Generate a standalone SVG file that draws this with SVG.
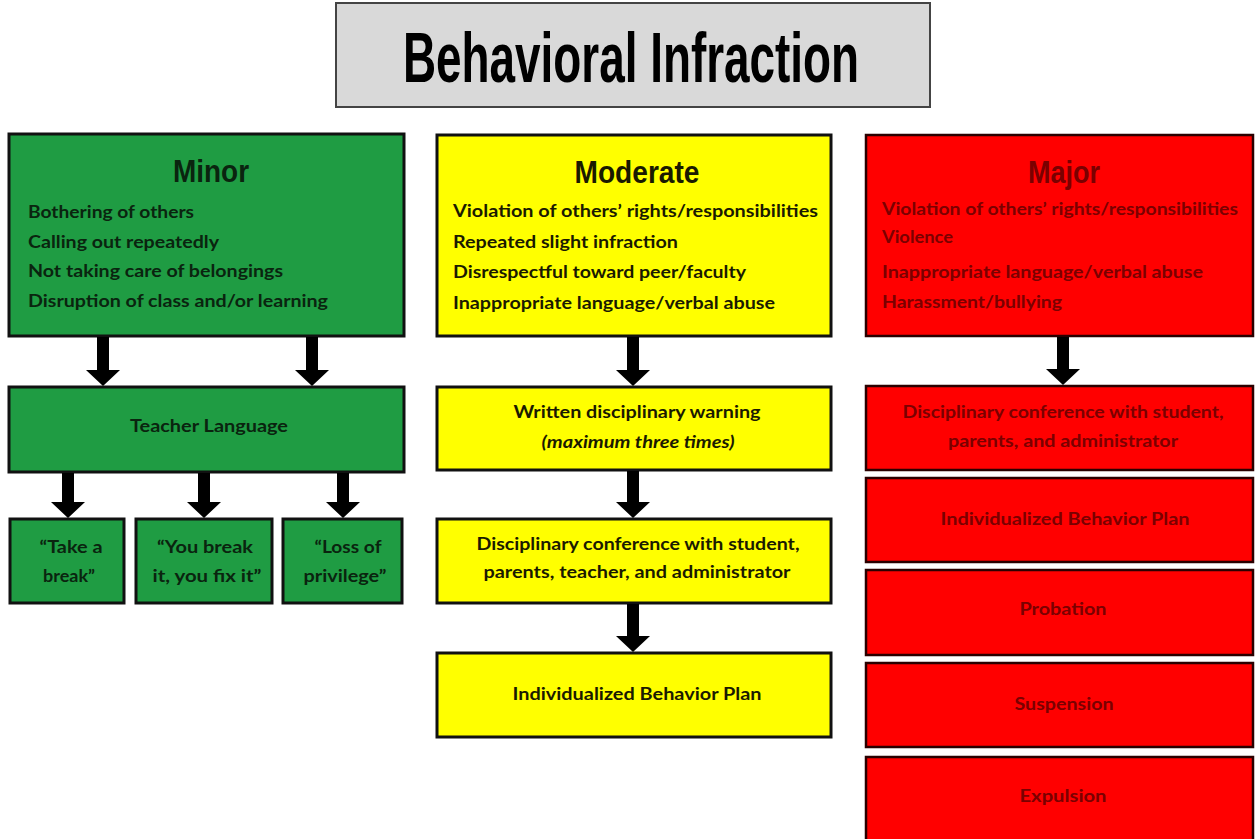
<svg xmlns="http://www.w3.org/2000/svg" width="1255" height="839" viewBox="0 0 1255 839">
<style>
.box{stroke:#111;stroke-width:3}
.g{fill:#1f9c43}
.y{fill:#ffff00}
.r{fill:#ff0000;stroke:#2a0000;stroke-width:2.5}
.t{font-family:"Liberation Sans Narrow","Liberation Sans",Arial,sans-serif;font-weight:bold}
.b{font-family:Lato,"Liberation Sans",Arial,sans-serif;font-weight:bold;font-size:16.5px}
.gt{fill:#0a240f}
.yt{fill:#1a1a00}
.rt{fill:#7a0000}
.arr{fill:#000}
</style>
<rect width="1255" height="839" fill="#fff"/>
<g id="title">
<rect x="336" y="3" width="594" height="104" fill="#d9d9d9" stroke="#444" stroke-width="2"/>
<text class="t" x="631" y="82" font-size="70" text-anchor="middle" textLength="456" lengthAdjust="spacingAndGlyphs" fill="#000">Behavioral Infraction</text>
</g>
<g id="minor">
<rect class="box g" x="9" y="134" width="395" height="202"/>
<text class="t gt" x="211" y="182" font-size="32" text-anchor="middle" textLength="76" lengthAdjust="spacingAndGlyphs">Minor</text>
<text class="b gt" x="28" y="218" textLength="166" lengthAdjust="spacingAndGlyphs">Bothering of others</text>
<text class="b gt" x="28" y="248" textLength="191" lengthAdjust="spacingAndGlyphs">Calling out repeatedly</text>
<text class="b gt" x="28" y="277" textLength="255" lengthAdjust="spacingAndGlyphs">Not taking care of belongings</text>
<text class="b gt" x="28" y="307" textLength="300" lengthAdjust="spacingAndGlyphs">Disruption of class and/or learning</text>
</g>
<g id="teacher-language">
<rect class="box g" x="9" y="387" width="395" height="85"/>
<text class="b gt" x="209" y="432" text-anchor="middle" textLength="158" lengthAdjust="spacingAndGlyphs">Teacher Language</text>
</g>
<g id="take-a-break">
<rect class="box g" x="10" y="519" width="114" height="84"/>
<text class="b gt" x="71" y="553" text-anchor="middle" textLength="63" lengthAdjust="spacingAndGlyphs">“Take a</text>
<text class="b gt" x="69" y="582" text-anchor="middle" textLength="52" lengthAdjust="spacingAndGlyphs">break”</text>
</g>
<g id="you-break-it">
<rect class="box g" x="136" y="519" width="136" height="84"/>
<text class="b gt" x="205" y="553" text-anchor="middle" textLength="96" lengthAdjust="spacingAndGlyphs">“You break</text>
<text class="b gt" x="207" y="582" text-anchor="middle" textLength="109" lengthAdjust="spacingAndGlyphs">it, you fix it”</text>
</g>
<g id="loss-of-privilege">
<rect class="box g" x="283" y="519" width="119" height="84"/>
<text class="b gt" x="348" y="553" text-anchor="middle" textLength="67" lengthAdjust="spacingAndGlyphs">“Loss of</text>
<text class="b gt" x="345" y="582" text-anchor="middle" textLength="83" lengthAdjust="spacingAndGlyphs">privilege”</text>
</g>
<g id="moderate">
<rect class="box y" x="437" y="135" width="394" height="201"/>
<text class="t yt" x="637" y="183" font-size="32" text-anchor="middle" textLength="125" lengthAdjust="spacingAndGlyphs">Moderate</text>
<text class="b yt" x="453" y="217" textLength="365" lengthAdjust="spacingAndGlyphs">Violation of others’ rights/responsibilities</text>
<text class="b yt" x="453" y="248" textLength="225" lengthAdjust="spacingAndGlyphs">Repeated slight infraction</text>
<text class="b yt" x="453" y="278" textLength="293" lengthAdjust="spacingAndGlyphs">Disrespectful toward peer/faculty</text>
<text class="b yt" x="453" y="309" textLength="322" lengthAdjust="spacingAndGlyphs">Inappropriate language/verbal abuse</text>
</g>
<g id="written-warning">
<rect class="box y" x="437" y="387" width="394" height="83"/>
<text class="b yt" x="637" y="418" text-anchor="middle" textLength="247" lengthAdjust="spacingAndGlyphs">Written disciplinary warning</text>
<text class="b yt" x="638" y="448" text-anchor="middle" font-style="italic" textLength="193" lengthAdjust="spacingAndGlyphs">(maximum three times)</text>
</g>
<g id="moderate-conference">
<rect class="box y" x="437" y="519" width="394" height="84"/>
<text class="b yt" x="638" y="550" text-anchor="middle" textLength="323" lengthAdjust="spacingAndGlyphs">Disciplinary conference with student,</text>
<text class="b yt" x="637" y="578" text-anchor="middle" textLength="307" lengthAdjust="spacingAndGlyphs">parents, teacher, and administrator</text>
</g>
<g id="moderate-plan">
<rect class="box y" x="437" y="653" width="394" height="84"/>
<text class="b yt" x="637" y="700" text-anchor="middle" textLength="249" lengthAdjust="spacingAndGlyphs">Individualized Behavior Plan</text>
</g>
<g id="major">
<rect class="r" x="866" y="135" width="387" height="201"/>
<text class="t rt" x="1064" y="183" font-size="32" text-anchor="middle" textLength="72" lengthAdjust="spacingAndGlyphs">Major</text>
<text class="b rt" x="882" y="215" textLength="356" lengthAdjust="spacingAndGlyphs">Violation of others’ rights/responsibilities</text>
<text class="b rt" x="882" y="243" textLength="71" lengthAdjust="spacingAndGlyphs">Violence</text>
<text class="b rt" x="882" y="278" textLength="321" lengthAdjust="spacingAndGlyphs">Inappropriate language/verbal abuse</text>
<text class="b rt" x="882" y="308" textLength="180" lengthAdjust="spacingAndGlyphs">Harassment/bullying</text>
</g>
<g id="major-conference">
<rect class="r" x="866" y="386" width="387" height="84"/>
<text class="b rt" x="1063" y="418" text-anchor="middle" textLength="321" lengthAdjust="spacingAndGlyphs">Disciplinary conference with student,</text>
<text class="b rt" x="1063" y="447" text-anchor="middle" textLength="230" lengthAdjust="spacingAndGlyphs">parents, and administrator</text>
</g>
<g id="major-plan">
<rect class="r" x="866" y="478" width="387" height="84"/>
<text class="b rt" x="1065" y="525" text-anchor="middle" textLength="249" lengthAdjust="spacingAndGlyphs">Individualized Behavior Plan</text>
</g>
<g id="probation">
<rect class="r" x="866" y="570" width="387" height="85"/>
<text class="b rt" x="1063" y="615" text-anchor="middle" textLength="87" lengthAdjust="spacingAndGlyphs">Probation</text>
</g>
<g id="suspension">
<rect class="r" x="866" y="663" width="387" height="84"/>
<text class="b rt" x="1064" y="710" text-anchor="middle" textLength="99" lengthAdjust="spacingAndGlyphs">Suspension</text>
</g>
<g id="expulsion">
<rect class="r" x="866" y="757" width="387" height="90"/>
<text class="b rt" x="1063" y="802" text-anchor="middle" textLength="87" lengthAdjust="spacingAndGlyphs">Expulsion</text>
</g>
<g id="connectors" class="arr">
<path d="M97 337H109V370H120L103 386L86 370H97Z"/>
<path d="M306 337H318V370H329L312 386L295 370H306Z"/>
<path d="M62 473H74V502H85L68 518L51 502H62Z"/>
<path d="M198 473H210V502H221L204 518L187 502H198Z"/>
<path d="M337 473H349V502H360L343 518L326 502H337Z"/>
<path d="M627 337H639V370H650L633 386L616 370H627Z"/>
<path d="M627 471H639V502H650L633 518L616 502H627Z"/>
<path d="M627 604H639V636H650L633 652L616 636H627Z"/>
<path d="M1057 337H1069V369H1080L1063 385L1046 369H1057Z"/>
</g>
</svg>
